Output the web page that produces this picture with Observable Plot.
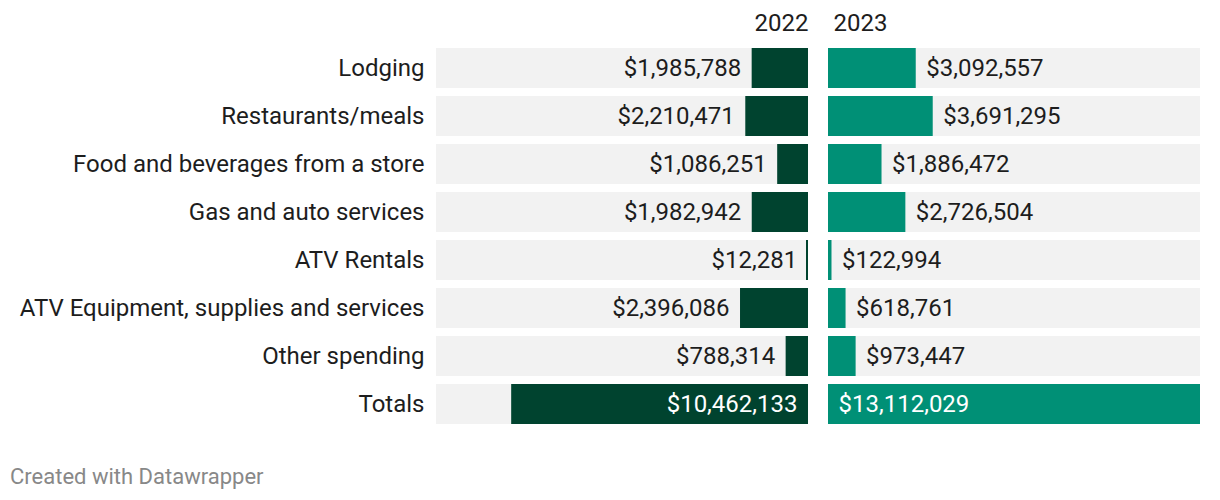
<!DOCTYPE html>
<html>
<head>
<meta charset="utf-8">
<script src="https://cdn.jsdelivr.net/npm/d3@7"></script>
<script src="https://cdn.jsdelivr.net/npm/@observablehq/plot@0.6"></script>
<style>
  body { margin: 0; background: #fff; font-family: Roboto, sans-serif; }
  #wrap { width: 1220px; position: relative; }
  #charts { display: flex; }
  #footer { margin-left: 10px; margin-top: 24px; font-size: 22px; color: #888; font-family: Roboto, sans-serif; }
</style>
</head>
<body>
<div id="wrap">
  <div id="charts"></div>
  <div id="footer">Created with Datawrapper</div>
</div>
<script>
const categories = ["Lodging", "Restaurants/meals", "Food and beverages from a store", "Gas and auto services", "ATV Rentals", "ATV Equipment, supplies and services", "Other spending", "Totals"];
const values2022 = [1985788, 2210471, 1086251, 1982942, 12281, 2396086, 788314, 10462133];
const values2023 = [3092557, 3691295, 1886472, 2726504, 122994, 618761, 973447, 13112029];
const years = ["2022", "2023"];

const dark = "#00432f";
const light = "#009076";
const bg = "#f2f2f2";
const textColor = "#1d1d1d";
const fontSize = 24;

const rows22 = categories.map((c, i) => ({category: c, value: values2022[i], total: c === "Totals"}));
const rows23 = categories.map((c, i) => ({category: c, value: values2023[i], total: c === "Totals"}));
const maxV = d3.max([...values2022, ...values2023]);
const fmt = v => "$" + d3.format(",")(v);

const common = {
  height: 440,
  marginTop: 48,
  marginBottom: 16,
  style: {fontFamily: "Roboto, sans-serif", fontSize: fontSize + "px", color: textColor, background: "transparent", overflow: "visible"},
};
const yScale = {domain: categories, paddingInner: 1/6, paddingOuter: 0};

const left = Plot.plot({
  ...common,
  width: 808,
  marginLeft: 436,
  marginRight: 0,
  x: {domain: [0, maxV], reverse: true, axis: null},
  y: {...yScale, label: null},
  marks: [
    Plot.axisY({tickSize: 0, tickPadding: 12, fontSize: fontSize, fill: textColor, label: null}),
    Plot.barX(categories, {x1: 0, x2: maxV, y: d => d, fill: bg}),
    Plot.barX(rows22, {x: "value", y: "category", fill: dark}),
    // minimum visible width at the baseline
    Plot.barX(rows22, {x1: 0, x2: 0, y: "category", fill: dark, insetLeft: -2}),
    Plot.text(rows22.filter(d => !d.total), {x: "value", y: "category", text: d => fmt(d.value), textAnchor: "end", dx: -11, fill: textColor, fontSize: fontSize}),
    Plot.text(rows22.filter(d => d.total), {x: 0, y: "category", text: d => fmt(d.value), textAnchor: "end", dx: -11, fill: "white", fontSize: fontSize}),
    Plot.text([years[0]], {frameAnchor: "top-right", text: d => d, dy: -25, lineAnchor: "middle", textAnchor: "end", fill: textColor, fontSize: fontSize})
  ]
});

const right = Plot.plot({
  ...common,
  width: 412,
  marginLeft: 20,
  marginRight: 20,
  x: {domain: [0, maxV], axis: null},
  y: {...yScale, axis: null},
  marks: [
    Plot.barX(categories, {x1: 0, x2: maxV, y: d => d, fill: bg}),
    Plot.barX(rows23, {x: "value", y: "category", fill: light}),
    Plot.barX(rows23, {x1: 0, x2: 0, y: "category", fill: light, insetRight: -2}),
    Plot.text(rows23.filter(d => !d.total), {x: "value", y: "category", text: d => fmt(d.value), textAnchor: "start", dx: 10, fill: textColor, fontSize: fontSize}),
    Plot.text(rows23.filter(d => d.total), {x: 0, y: "category", text: d => fmt(d.value), textAnchor: "start", dx: 10, fill: "white", fontSize: fontSize}),
    Plot.text([years[1]], {frameAnchor: "top-left", text: d => d, dy: -25, dx: 5, lineAnchor: "middle", textAnchor: "start", fill: textColor, fontSize: fontSize})
  ]
});

document.getElementById("charts").append(left, right);
</script>
</body>
</html>
